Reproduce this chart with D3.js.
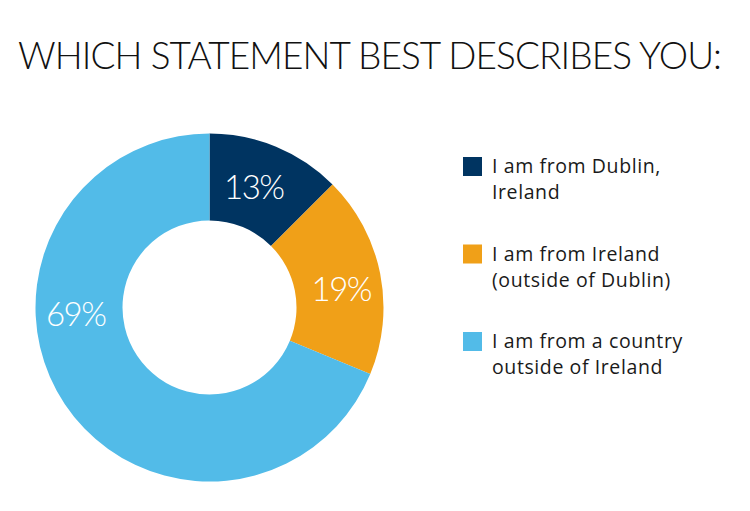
<!DOCTYPE html>
<html><head><meta charset="utf-8">
<script src="https://cdn.jsdelivr.net/npm/d3@7"></script>
<style>body{margin:0;background:#fff}svg{display:block}</style>
</head><body>
<script>
const categories = ["I am from Dublin, Ireland", "I am from Ireland (outside of Dublin)", "I am from a country outside of Ireland"];
const legendLines = [["I am from Dublin,", "Ireland"], ["I am from Ireland", "(outside of Dublin)"], ["I am from a country", "outside of Ireland"]];
const values = [12.5, 18.75, 68.75];
const valueLabels = ["13%", "19%", "69%"];
const colors = ["#003461", "#F0A018", "#52BBE8"];
const title = "WHICH STATEMENT BEST DESCRIBES YOU:";

const W = 750, H = 511;
const svg = d3.select("body").append("svg").attr("width", W).attr("height", H);

const tt = svg.append("text").attr("x", 18).attr("y", 69)
  .style("font-family", "Lato, 'Open Sans', sans-serif").style("font-weight", 300)
  .style("font-size", "37px").attr("fill", "#111").text(title);
const tw = tt.node().getComputedTextLength();
tt.style("letter-spacing", ((704 - tw) / (title.length - 1)) + "px");

const cx = 209.5, cy = 307.5, R = 174, r = 87;
const pie = d3.pie().sort(null).value(d => d)(values);
const arc = d3.arc().innerRadius(r).outerRadius(R);
const g = svg.append("g").attr("transform", `translate(${cx},${cy})`);
g.selectAll("path").data(pie).enter().append("path")
  .attr("d", arc).attr("fill", (d, i) => colors[i]);

// label anchor position within each slice (fraction of slice span)
const labelFrac = [0.45, 0.55, 0.624];
const labelRad = [128, 133, 134];
g.selectAll("text.lbl").data(pie).enter().append("text").attr("class", "lbl")
  .attr("transform", (d, i) => {
    const a = d.startAngle + (d.endAngle - d.startAngle) * labelFrac[i];
    const la = d3.arc().innerRadius(labelRad[i]).outerRadius(labelRad[i]).startAngle(a).endAngle(a);
    const c = la.centroid();
    return `translate(${c[0]},${c[1]})`;
  })
  .attr("text-anchor", "middle").attr("dy", "0.35em")
  .style("font-family", "Lato, 'Open Sans', sans-serif").style("font-weight", 300)
  .style("font-size", "33px").style("letter-spacing", "-1.5px").attr("fill", "#fff")
  .text((d, i) => valueLabels[i]);

const legY = d3.scalePoint().domain(d3.range(categories.length)).range([157, 332]);
const leg = svg.append("g").selectAll("g").data(categories).enter().append("g")
  .attr("transform", (d, i) => `translate(463,${legY(i)})`);
leg.append("rect").attr("width", 19).attr("height", 19).attr("fill", (d, i) => colors[i]);
leg.each(function(d, i) {
  const t = d3.select(this).append("text").attr("x", 29).attr("y", 16)
    .style("font-family", "'Open Sans', sans-serif").style("font-size", "19.5px")
    .style("letter-spacing", "0.6px").attr("fill", "#1a1a1a");
  legendLines[i].forEach((ln, j) => t.append("tspan").attr("x", 29).attr("dy", j ? 26 : 0).text(ln));
});
</script>
</body></html>
